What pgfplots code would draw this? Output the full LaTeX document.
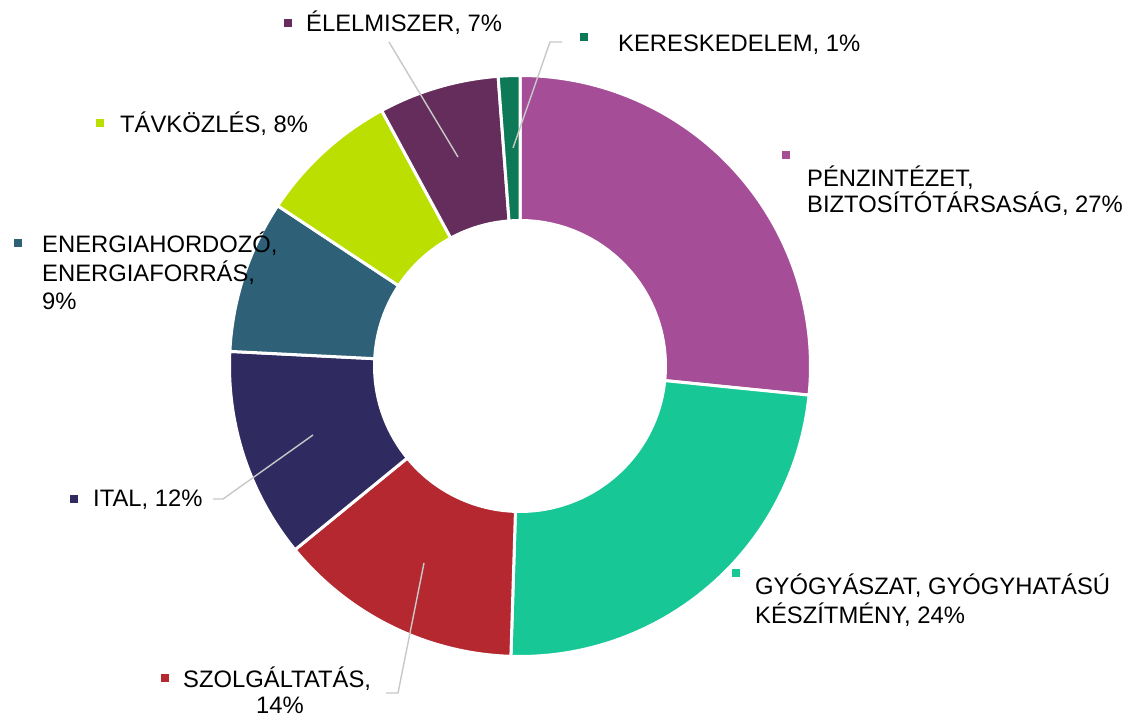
\documentclass[border=0pt]{standalone}
\usepackage{pgfplots}
\pgfplotsset{compat=1.18}
\usepackage{fontspec}
\setmainfont{Liberation Sans}
\definecolor{cPenz}{RGB}{166,77,152}
\definecolor{cGyogy}{RGB}{23,200,150}
\definecolor{cSzolg}{RGB}{181,40,47}
\definecolor{cItal}{RGB}{47,43,97}
\definecolor{cEnerg}{RGB}{46,97,119}
\definecolor{cTav}{RGB}{186,223,0}
\definecolor{cElel}{RGB}{100,45,91}
\definecolor{cKer}{RGB}{13,121,87}
\definecolor{cLead}{RGB}{200,200,200}
% slice: colour, cumulative start %, cumulative end %
\newcommand{\slice}[3]{%
  \addplot[fill=#1, draw=white, line width=3bp, domain={90-3.6*(#3)}:{90-3.6*(#2)}, samples=90]
    ({520+290.5*cos(x)},{352+290.5*sin(x)}) -- (520,352) -- cycle;}
\newcommand{\key}[3]{%
  \addplot[only marks, mark=square*, mark size=3.5bp, color=#1, mark options={draw=none, fill=#1}] coordinates {(#2,#3)};}
\newcommand{\lab}[3]{\node[anchor=base west, inner sep=0pt, font=\fontsize{23.8bp}{28bp}\selectfont] at (#1,#2) {#3};}
\begin{document}
\begin{tikzpicture}
\begin{axis}[
  scale only axis, width=1130bp, height=718bp,
  xmin=0, xmax=1130, ymin=0, ymax=718,
  hide axis, clip=false]
% shares (%): 26.6, 23.9, 13.6, 11.7, 8.5, 7.8, 6.7, 1.2
\slice{cPenz}{0}{26.6}
\slice{cGyogy}{26.6}{50.5}
\slice{cSzolg}{50.5}{64.1}
\slice{cItal}{64.1}{75.8}
\slice{cEnerg}{75.8}{84.3}
\slice{cTav}{84.3}{92.1}
\slice{cElel}{92.1}{98.8}
\slice{cKer}{98.8}{100}
\addplot[fill=white, draw=none, domain=0:360, samples=150] ({520+147*cos(x)},{352+147*sin(x)}) -- cycle;
% leader lines
\addplot[cLead, line width=1.4bp] coordinates {(458,561) (389,676)};
\addplot[cLead, line width=1.4bp] coordinates {(513,570) (550,676) (562,676)};
\addplot[cLead, line width=1.4bp] coordinates {(313,283) (223,219) (213,219)};
\addplot[cLead, line width=1.4bp] coordinates {(424,155) (398,25) (386,25)};
% keys
\key{cElel}{288}{695}
\key{cKer}{584}{681}
\key{cPenz}{786}{563}
\key{cTav}{100}{595}
\key{cEnerg}{18}{475}
\key{cItal}{74}{219}
\key{cSzolg}{165}{40}
\key{cGyogy}{736}{145}
% labels
\lab{306}{686}{ÉLELMISZER, 7\%}
\lab{618}{666}{KERESKEDELEM, 1\%}
\lab{807}{531}{PÉNZINTÉZET,}
\lab{807}{505}{BIZTOSÍTÓTÁRSASÁG, 27\%}
\lab{120}{585}{TÁVKÖZLÉS, 8\%}
\lab{42}{465}{ENERGIAHORDOZÓ,}
\lab{42}{436}{ENERGIAFORRÁS,}
\lab{42}{408}{9\%}
\lab{93}{211}{ITAL, 12\%}
\lab{183}{30}{SZOLGÁLTATÁS,}
\node[anchor=base, inner sep=0pt, font=\fontsize{23.8bp}{28bp}\selectfont] at (280,4) {14\%};
\lab{755}{123}{GYÓGYÁSZAT, GYÓGYHATÁSÚ}
\lab{755}{94}{KÉSZÍTMÉNY, 24\%}
\end{axis}
\pgfresetboundingbox
\path (current axis.south west) rectangle (current axis.north east);
\end{tikzpicture}
\end{document}
